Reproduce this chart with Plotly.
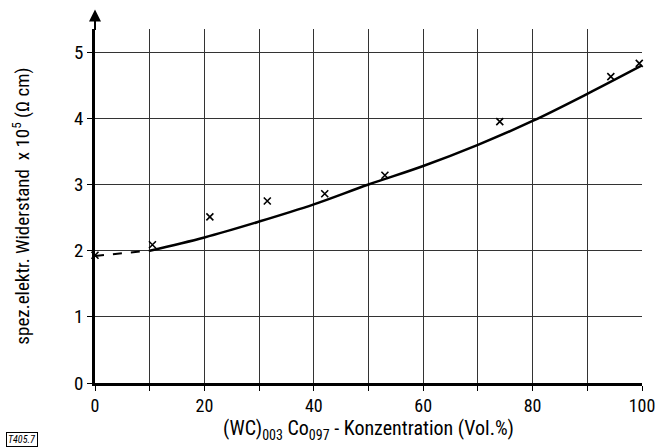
import plotly.graph_objects as go

# measured points (x markers)
meas_x = [0, 10.5, 21, 31.5, 42, 53, 74, 94.3, 99.5]
meas_y = [1.93, 2.09, 2.51, 2.75, 2.86, 3.14, 3.95, 4.63, 4.83]

# fitted curve (solid part)
curve_x = [10, 20, 30, 40, 50, 60, 70, 80, 90, 100]
curve_y = [2.0, 2.2, 2.44, 2.7, 3.0, 3.28, 3.6, 3.96, 4.37, 4.8]

# dashed extrapolation
dash_x = [0, 10]
dash_y = [1.92, 2.0]

x_ticks = [0, 20, 40, 60, 80, 100]
y_ticks = [0, 1, 2, 3, 4, 5]

FONT = "Liberation Sans Narrow, Roboto Condensed, Liberation Sans, Arial"

fig = go.Figure()
fig.add_trace(go.Scatter(x=dash_x, y=dash_y, mode="lines",
                         line=dict(color="black", width=2, dash="dash"),
                         showlegend=False, cliponaxis=False))
fig.add_trace(go.Scatter(x=curve_x, y=curve_y, mode="lines",
                         line=dict(color="black", width=2.5, shape="spline"),
                         showlegend=False, cliponaxis=False))
fig.add_trace(go.Scatter(x=meas_x, y=meas_y, mode="markers",
                         marker=dict(symbol="x-thin", size=7, line=dict(color="black", width=1.6)),
                         showlegend=False, cliponaxis=False))

fig.update_xaxes(range=[0, 100], tickvals=x_ticks, ticks="outside", ticklen=5,
                 tickcolor="black", tickwidth=1.2,
                 showgrid=True, gridcolor="#333", gridwidth=1,
                 minor=dict(dtick=10, showgrid=True, gridcolor="#333", gridwidth=1,
                            ticks="outside", ticklen=5, tickcolor="black"),
                 showline=True, linecolor="black", linewidth=2.5, zeroline=False,
                 ticklabelstandoff=0,
                 tickfont=dict(family=FONT, size=18, color="black"),
                 title=dict(text="(WC)<sub>003</sub> Co<sub>097</sub> - Konzentration (Vol.%)",
                            font=dict(family=FONT, size=20, color="black"), standoff=2))
fig.update_yaxes(range=[0, 5.35], tickvals=y_ticks, ticks="outside", ticklen=5,
                 tickcolor="black", tickwidth=1.2,
                 showgrid=True, gridcolor="#333", gridwidth=1,
                 showline=True, linecolor="black", linewidth=2.5, zeroline=False,
                 tickfont=dict(family=FONT, size=19, color="black"),
                 title=dict(text="spez.elektr. Widerstand  x 10<sup>5</sup> (Ω cm)",
                            font=dict(family=FONT, size=19, color="black"), standoff=40))

# axis arrow above y-axis
fig.add_annotation(xref="x", yref="paper", x=0, y=1.055, ax=0, ay=22,
                   text="", showarrow=True, arrowhead=2, arrowsize=1.2,
                   arrowwidth=2, arrowcolor="black")
# figure label
fig.add_annotation(xref="paper", yref="paper", x=-0.163, y=-0.138, xanchor="left", yanchor="top",
                   text="T405.7", showarrow=False, bordercolor="black", borderwidth=1,
                   borderpad=1, font=dict(family=FONT, size=10, color="black", style="italic"))

fig.update_layout(width=669, height=447, margin=dict(l=95, r=27, t=29, b=64),
                  paper_bgcolor="white", plot_bgcolor="white")
fig.write_html("out.html")
